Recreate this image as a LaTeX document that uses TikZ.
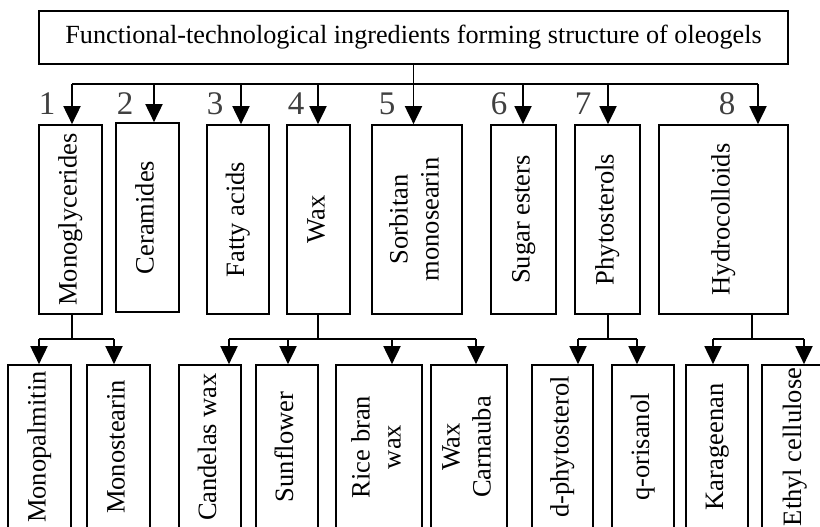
\documentclass[tikz,border=0pt]{standalone}
\usepackage{fontspec}
\setmainfont{Liberation Serif}
\usetikzlibrary{arrows.meta}
\tikzset{
  box/.style={draw, line width=1.7pt, inner sep=0pt, align=center, font=\fontsize{26.5}{31}\selectfont},
  conn/.style={line width=1.9pt},
  arr/.style={line width=1.9pt, -{Triangle[width=17pt,length=18pt]}},
  num/.style={text=black!75, font=\fontsize{33}{33}\selectfont, inner sep=0pt}
}
\newcommand{\rt}[1]{\rotatebox{90}{\begin{tabular}{@{}c@{}}#1\end{tabular}}}
\begin{document}
\begin{tikzpicture}[x=1pt,y=-1pt]
\useasboundingbox (0,0) rectangle (820,527);
\clip (0,0) rectangle (820,527);
% title
\node[box, minimum width=749pt, minimum height=53pt, font=\fontsize{26.2}{30}\selectfont] (top) at (413.5,37.5) {Functional-technological ingredients forming structure of oleogels};
% row 1 boxes
\node[box, minimum width=63pt, minimum height=189pt] (mono) at (70.5,219.5) {\rt{Monoglycerides}};
\node[box, minimum width=63pt, minimum height=189pt] (cer) at (147.5,217.5) {\rt{Ceramides}};
\node[box, minimum width=62pt, minimum height=189pt] (fat) at (238,219.5) {\rt{Fatty acids}};
\node[box, minimum width=63pt, minimum height=189pt] (wax) at (318.5,219.5) {\rt{Wax}};
\node[box, minimum width=90pt, minimum height=189pt] (sorb) at (417,219.5) {\rt{Sorbitan\\monosearin}};
\node[box, minimum width=65pt, minimum height=189pt] (sug) at (523.5,219.5) {\rt{Sugar esters}};
\node[box, minimum width=65pt, minimum height=189pt] (phy) at (607.5,219.5) {\rt{Phytosterols}};
\node[box, minimum width=129pt, minimum height=189pt] (hyd) at (723.5,219.5) {\rt{Hydrocolloids}};
% numbers
\node[num] (n1) at (47,104) {1};
\node[num] (n2) at (125,104) {2};
\node[num] (n3) at (215,104) {3};
\node[num] (n4) at (296,104) {4};
\node[num] (n5) at (387,104) {5};
\node[num] (n6) at (499,104) {6};
\node[num] (n7) at (583,104) {7};
\node[num] (n8) at (727,104) {8};
% row 2 boxes
\node[box, minimum width=63pt, minimum height=164pt] (mpal) at (39.5,447) {\rt{Monopalmitin}};
\node[box, minimum width=63pt, minimum height=164pt] (mste) at (118.5,447) {\rt{Monostearin}};
\node[box, minimum width=62pt, minimum height=164pt] (cand) at (210,447) {\rt{Candelas wax}};
\node[box, minimum width=62pt, minimum height=164pt] (sunf) at (287,447) {\rt{Sunflower}};
\node[box, minimum width=86pt, minimum height=164pt] (rice) at (379,447) {\rt{Rice bran\\wax}};
\node[box, minimum width=76pt, minimum height=164pt] (carn) at (469,447) {\rt{Wax\\Carnauba}};
\node[box, minimum width=61pt, minimum height=164pt] (dphy) at (562.5,447) {\rt{d-phytosterol}};
\node[box, minimum width=62pt, minimum height=164pt] (qori) at (643,447) {\rt{q-orisanol}};
\node[box, minimum width=62pt, minimum height=164pt] (kara) at (717,447) {\rt{Karageenan}};
\node[box, minimum width=66pt, minimum height=164pt] (ethy) at (795,447) {\rt{Ethyl cellulose}};
% top bus
\coordinate (b1) at (72,84);
\coordinate (b2) at (154,84);
\coordinate (b3) at (241,84);
\coordinate (b4) at (318,84);
\coordinate (b6) at (523,84);
\coordinate (b7) at (608,84);
\coordinate (b8) at (758,84);
\draw[conn] (b1) -- (b8);
\draw[arr] (top.south) -- (top.south |- sorb.north);
\draw[arr] (b1) -- (b1 |- mono.north);
\draw[arr] (b2) -- (b2 |- cer.north);
\draw[arr] (b3) -- (b3 |- fat.north);
\draw[arr] (b4) -- (b4 |- wax.north);
\draw[arr] (b6) -- (b6 |- sug.north);
\draw[arr] (b7) -- (b7 |- phy.north);
\draw[arr] (b8) -- (b8 |- hyd.north);
% monoglycerides branch
\coordinate (m0) at (72,339);
\coordinate (m1) at (39,339);
\coordinate (m2) at (114,339);
\draw[conn] (mono.south -| m0) -- (m0);
\draw[conn] (m1) -- (m2);
\draw[arr] (m1) -- (m1 |- mpal.north);
\draw[arr] (m2) -- (m2 |- mste.north);
% wax branch
\coordinate (w0) at (318,339);
\coordinate (w1) at (229,339);
\coordinate (w2) at (288,339);
\coordinate (w3) at (392,339);
\coordinate (w4) at (476,339);
\draw[conn] (wax.south -| w0) -- (w0);
\draw[conn] (w1) -- (w4);
\draw[arr] (w1) -- (w1 |- cand.north);
\draw[arr] (w2) -- (w2 |- sunf.north);
\draw[arr] (w3) -- (w3 |- rice.north);
\draw[arr] (w4) -- (w4 |- carn.north);
% phytosterols branch
\coordinate (p0) at (608,339);
\coordinate (p1) at (578,339);
\coordinate (p2) at (637,339);
\draw[conn] (phy.south -| p0) -- (p0);
\draw[conn] (p1) -- (p2);
\draw[arr] (p1) -- (p1 |- dphy.north);
\draw[arr] (p2) -- (p2 |- qori.north);
% hydrocolloids branch
\coordinate (h0) at (752,339);
\coordinate (h1) at (713,339);
\coordinate (h2) at (804,339);
\draw[conn] (hyd.south -| h0) -- (h0);
\draw[conn] (h1) -- (h2);
\draw[arr] (h1) -- (h1 |- kara.north);
\draw[arr] (h2) -- (h2 |- ethy.north);
\end{tikzpicture}
\end{document}
